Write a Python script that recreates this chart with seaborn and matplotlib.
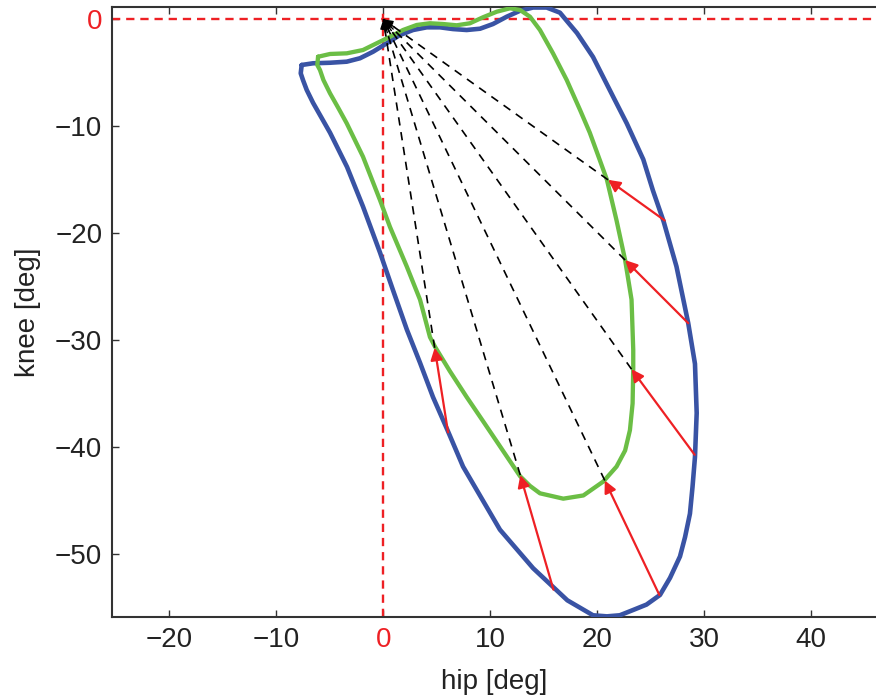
import numpy as np
import pandas as pd
import matplotlib
matplotlib.use("Agg")
import matplotlib.pyplot as plt
import seaborn as sns

# ---- data ----
blue_hip = [-7.63, -6.57, -4.98, -3.42, -2.18, -0.96, 0.32, 1.55, 2.78, 4.06, 5.30, 6.51,
            7.79, 9.04, 10.25, 11.53, 12.78, 13.99, 15.27, 16.51, 17.4, 18.1, 19.6,
            21.5, 22.75, 24.3, 25.2, 26.2, 27.4, 28.5, 29.13, 29.29, 29.13, 28.9, 28.66,
            28.2, 27.73, 26.8, 25.86, 24.6, 23.36, 22.1, 20.9, 19.6, 17.2, 14.0, 10.9,
            7.45, 6.0, 4.64, 3.43, 2.2, 0.9, -0.31, -1.9, -3.39, -4.98, -6.57, -7.16,
            -7.5, -7.72, -7.63]
blue_knee = [-4.27, -4.11, -4.06, -3.96, -3.64, -3.03, -2.24, -1.47, -1.0, -0.75, -0.75, -0.91,
             -1.0, -0.88, -0.44, 0.24, 0.80, 1.1, 1.1, 0.62, -0.45, -1.28, -3.52,
             -7.27, -9.72, -13.1, -16.0, -18.9, -23.1, -28.4, -32.2, -36.8, -40.9, -43.7, -46.2,
             -48.4, -50.2, -52.2, -53.8, -54.7, -55.2, -55.7, -55.8, -55.7, -54.3, -51.3, -47.7,
             -41.8, -38.4, -35.3, -32.1, -29.0, -25.3, -21.8, -17.5, -13.8, -10.6, -7.8, -6.6,
             -5.7, -5.05, -4.27]

green_hip = [-6.10, -4.98, -3.42, -1.90, -0.62, 0.63, 1.84, 3.12, 4.36, 5.58, 6.86, 8.10,
             9.32, 10.6, 11.84, 12.78, 13.71, 14.64, 15.86, 17.14, 18.4, 19.3, 20.25, 20.9,
             21.8, 22.6, 23.2, 23.36, 23.36, 23.3, 23.05, 22.6, 21.8, 20.56, 18.7, 16.82,
             14.64, 13.7, 12.78, 11.84, 10.9, 9.35, 7.79, 6.23, 4.83, 4.36, 3.43, 2.19,
             0.62, -0.31, -1.9, -3.42, -4.2, -4.98, -5.6, -5.92, -6.17, -6.10]
green_knee = [-3.50, -3.24, -3.18, -2.87, -2.24, -1.63, -1.0, -0.53, -0.37, -0.44, -0.56, -0.37,
              0.19, 0.71, 1.03, 0.87, 0.24, -1.0, -3.18, -5.67, -8.5, -10.6, -13.2, -15.0,
              -18.8, -22.5, -26.2, -30.9, -32.6, -35.9, -38.4, -40.3, -41.8, -43.2, -44.5, -44.8,
              -44.3, -43.6, -42.7, -41.3, -39.9, -37.6, -35.3, -32.9, -30.6, -29.7, -26.2, -23.1,
              -19.4, -16.9, -12.84, -9.72, -8.3, -6.92, -5.67, -4.74, -4.27, -3.50]

arrow_tail_hip = [26.3, 28.5, 29.1, 25.8, 15.9, 6.05]
arrow_tail_knee = [-18.8, -28.4, -40.7, -53.8, -53.3, -38.6]
arrow_head_hip = [21.0, 22.6, 23.2, 20.7, 12.8, 4.8]
arrow_head_knee = [-15.0, -22.5, -32.7, -43.1, -42.6, -30.7]

x_ticks = [-20, -10, 0, 10, 20, 30, 40]
y_ticks = [-50, -40, -30, -20, -10, 0]

BLUE = "#3953A4"
GREEN = "#6BBE45"
RED = "#EE2024"

sns.set_theme(style="ticks")
plt.rcParams["font.family"] = ["Liberation Sans", "DejaVu Sans"]

fig = plt.figure(figsize=(8.76, 7.0), dpi=100)
ax = fig.add_axes([112/876, 83/700, (876-112)/876, 610/700])

blue_df = pd.DataFrame({"hip": blue_hip, "knee": blue_knee})
green_df = pd.DataFrame({"hip": green_hip, "knee": green_knee})

# reference lines
ax.axvline(0, color=RED, lw=1.7, ls=(0, (3.5, 2.5)), zorder=1)
ax.axhline(0, color=RED, lw=1.7, ls=(0, (3.5, 2.5)), zorder=1)

sns.lineplot(data=blue_df, x="hip", y="knee", sort=False, estimator=None,
             color=BLUE, lw=3.3, ax=ax, zorder=3)
sns.lineplot(data=green_df, x="hip", y="knee", sort=False, estimator=None,
             color=GREEN, lw=3.1, ax=ax, zorder=4)
for ln in ax.get_lines():
    ln.set_solid_joinstyle("round")
    ln.set_solid_capstyle("round")

# dashed lines from green points to origin
for hx, hy in zip(arrow_head_hip, arrow_head_knee):
    ax.plot([hx, 0], [hy, 0], color="black", lw=1.2, ls=(0, (5, 4)), zorder=5)
    d = np.hypot(hx, hy)
    ax.annotate("", xy=(0, 0), xytext=(hx / d * 1.3, hy / d * 1.3),
                arrowprops=dict(arrowstyle="-|>", color="black", lw=1.0,
                                mutation_scale=14, shrinkA=0, shrinkB=0), zorder=6)

# red arrows from blue to green
for tx, ty, hx, hy in zip(arrow_tail_hip, arrow_tail_knee, arrow_head_hip, arrow_head_knee):
    ax.annotate("", xy=(hx, hy), xytext=(tx, ty),
                arrowprops=dict(arrowstyle="-|>", color=RED, lw=1.6,
                                mutation_scale=18, shrinkA=0, shrinkB=0), zorder=7)

ax.set_xlim(-25.36, 46.05)
ax.set_ylim(-55.86, 1.15)
ax.set_xticks(x_ticks)
ax.set_yticks(y_ticks)
ax.set_xticklabels(["\u221220", "\u221210", "0", "10", "20", "30", "40"])
ax.set_yticklabels(["\u221250", "\u221240", "\u221230", "\u221220", "\u221210", "0"])
ax.tick_params(direction="in", length=5, width=1, colors="#333333", labelcolor="#222222",
               labelsize=20, pad=7, top=True, right=False)
for lab in ax.get_xticklabels():
    if lab.get_text() == "0":
        lab.set_color(RED)
for lab in ax.get_yticklabels():
    if lab.get_text() == "0":
        lab.set_color(RED)

ax.spines["right"].set_visible(False)
for s in ["left", "top", "bottom"]:
    ax.spines[s].set_linewidth(1.5)
    ax.spines[s].set_color("#333333")

ax.set_xlabel("hip [deg]", fontsize=20, color="#222222", labelpad=12)
ax.set_ylabel("knee [deg]", fontsize=20, color="#222222", labelpad=10)

fig.savefig("out.png", dpi=100)
